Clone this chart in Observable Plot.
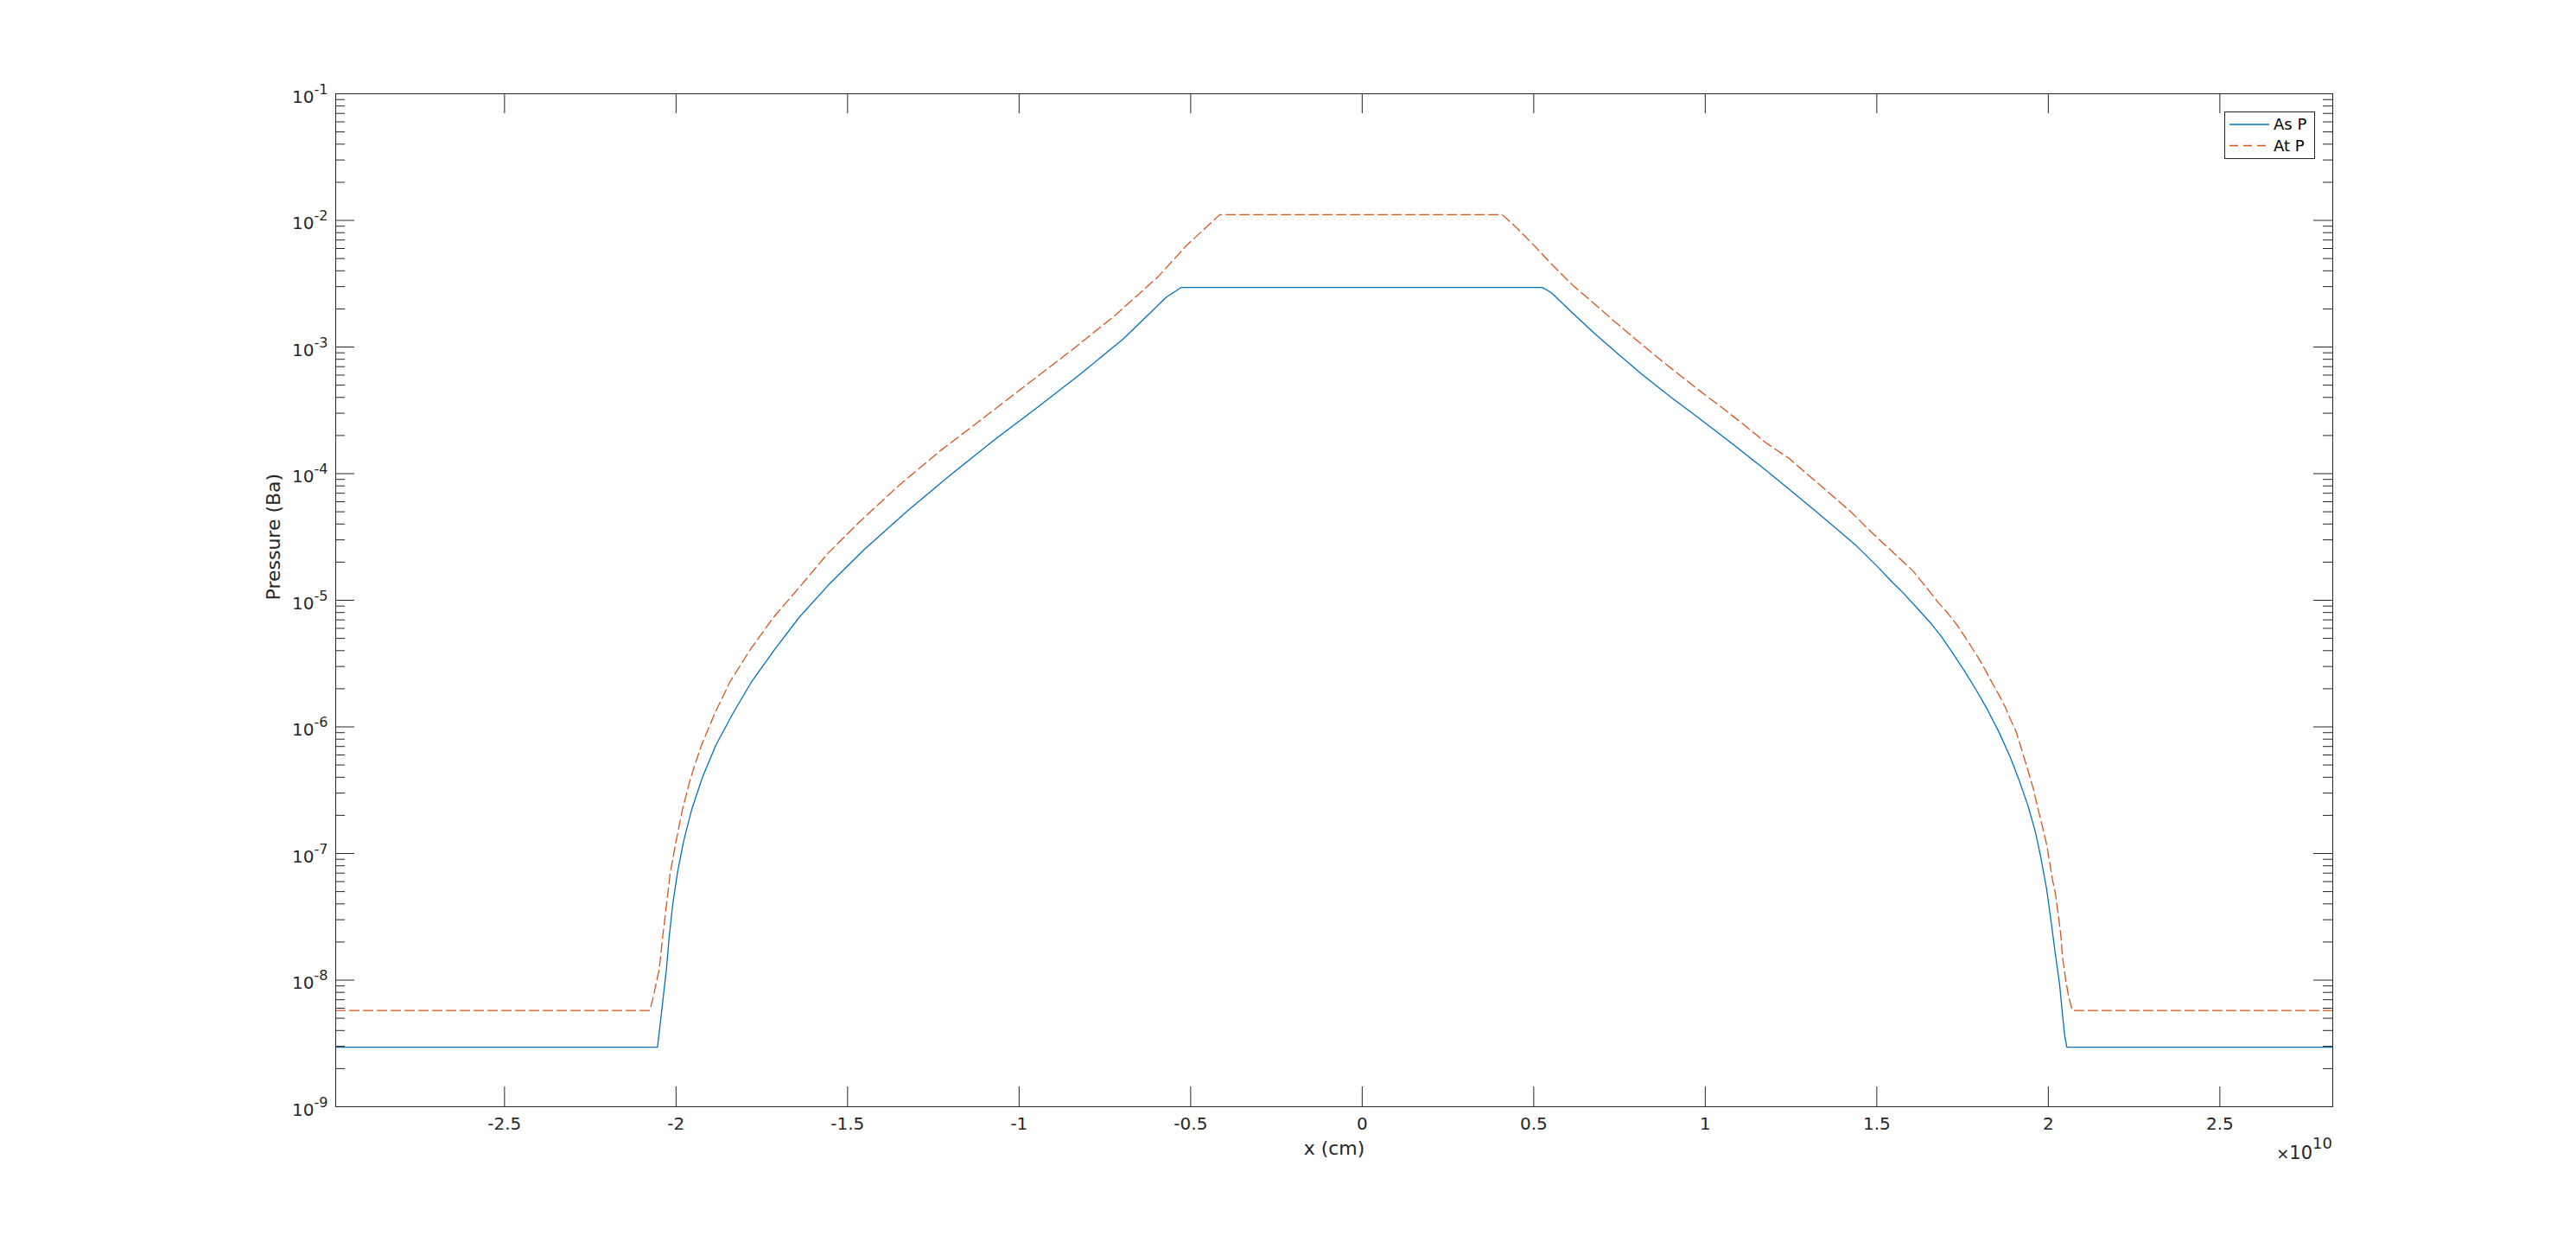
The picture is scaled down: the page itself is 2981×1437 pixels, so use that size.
<!DOCTYPE html>
<html><head><meta charset="utf-8">
<script src="https://cdn.jsdelivr.net/npm/d3@7"></script>
<script src="https://cdn.jsdelivr.net/npm/@observablehq/plot@0.6"></script>
<style>
body{margin:0;background:#fff;}
#wrap{position:relative;width:2981px;height:1437px;}
#legend{position:absolute;left:0;top:0;}
</style></head><body><div id="wrap"></div>
<script>
// x in units of 1e10 cm, pressure in Ba
const asP_x = [-2.992,-2.054,-2.028,-2.020,-2.010,-1.996,-1.978,-1.954,-1.923,-1.884,-1.834,-1.779,-1.712,-1.641,-1.557,-1.452,-1.326,-1.200,-1.074,-0.948,-0.822,-0.696,-0.570,-0.528,
  0.525,0.551,0.610,0.677,0.748,0.815,0.899,0.983,1.084,1.168,1.252,1.319,1.378,1.437,1.504,1.546,1.576,1.622,1.660,1.689,1.722,1.756,1.790,1.823,1.856,1.890,1.915,1.941,1.962,1.978,1.995,2.008,2.020,2.033,2.041,2.048,2.054,2.829];
const asP_p = [2.95e-9,2.95e-9,1.22e-8,2.19e-8,3.91e-8,7.00e-8,1.25e-7,2.24e-7,4.00e-7,7.16e-7,1.28e-6,2.29e-6,4.10e-6,7.33e-6,1.31e-5,2.51e-5,5.07e-5,9.77e-5,1.83e-4,3.31e-4,6.10e-4,1.16e-3,2.49e-3,2.95e-3,
  2.95e-3,2.69e-3,1.89e-3,1.28e-3,8.71e-4,6.10e-4,4.03e-4,2.72e-4,1.68e-4,1.11e-4,7.24e-5,5.13e-5,3.76e-5,2.75e-5,1.82e-5,1.38e-5,1.15e-5,8.41e-6,6.46e-6,5.13e-6,3.80e-6,2.75e-6,1.95e-6,1.36e-6,9.12e-7,5.68e-7,3.78e-7,2.37e-7,1.49e-7,9.35e-8,5.24e-8,2.92e-8,1.64e-8,9.16e-9,5.42e-9,3.61e-9,2.95e-9,2.95e-9];
const atP_x = [-2.992,-2.077,-2.069,-2.049,-2.039,-2.028,-2.017,-2.000,-1.981,-1.957,-1.926,-1.887,-1.842,-1.783,-1.716,-1.636,-1.557,-1.469,-1.351,-1.225,-1.099,-0.973,-0.847,-0.721,-0.595,-0.511,-0.452,-0.415,
  0.408,0.446,0.500,0.555,0.614,0.673,0.740,0.799,0.866,0.924,0.983,1.050,1.109,1.176,1.244,1.302,1.361,1.428,1.487,1.546,1.605,1.651,1.680,1.705,1.731,1.756,1.777,1.798,1.819,1.836,1.857,1.874,1.890,1.907,1.924,1.941,1.957,1.970,1.982,1.995,2.003,2.012,2.020,2.029,2.037,2.041,2.050,2.058,2.066,2.070,2.829];
const atP_p = [5.75e-9,5.75e-9,6.84e-9,1.22e-8,2.19e-8,3.91e-8,7.00e-8,1.25e-7,2.24e-7,4.00e-7,7.16e-7,1.28e-6,2.29e-6,4.10e-6,7.33e-6,1.31e-5,2.35e-5,4.07e-5,8.04e-5,1.55e-4,2.82e-4,5.16e-4,9.44e-4,1.77e-3,3.59e-3,6.38e-3,8.97e-3,1.11e-2,
  1.11e-2,8.97e-3,6.38e-3,4.43e-3,3.07e-3,2.24e-3,1.55e-3,1.14e-3,8.05e-4,6.05e-4,4.53e-4,3.30e-4,2.48e-4,1.76e-4,1.32e-4,9.66e-5,7.05e-5,4.89e-5,3.39e-5,2.41e-5,1.71e-5,1.20e-5,9.53e-6,8.02e-6,6.53e-6,5.18e-6,4.23e-6,3.44e-6,2.73e-6,2.23e-6,1.77e-6,1.44e-6,1.14e-6,9.04e-7,6.38e-7,4.50e-7,3.18e-7,2.24e-7,1.67e-7,1.18e-7,8.83e-8,6.22e-8,4.93e-8,3.29e-8,2.19e-8,1.55e-8,1.03e-8,7.69e-9,6.28e-9,5.75e-9,5.75e-9];

const seriesNames = ["As P", "At P"];
const seriesColors = ["#0072BD", "#D95319"];
const xTicks = [-2.5,-2,-1.5,-1,-0.5,0,0.5,1,1.5,2,2.5];
const xTickLabels = ["-2.5","-2","-1.5","-1","-0.5","0","0.5","1","1.5","2","2.5"];
const yMajor = [1e-9,1e-8,1e-7,1e-6,1e-5,1e-4,1e-3,1e-2,1e-1];
const yExpLabels = ["-9","-8","-7","-6","-5","-4","-3","-2","-1"];
const yMinor = [];
for (let k = -9; k < -1; k++) for (let m = 2; m <= 9; m++) yMinor.push(+(m + "e" + k));
const xDomain = [-2.992, 2.829];
const yDomain = [1e-9, 1e-1];

const W = 2981, H = 1437, ML = 388, MR = 282, MT = 108, MB = 157;
const innerW = W - ML - MR, innerH = H - MT - MB;
const AX = "#262626";

const asP = asP_x.map((x, i) => ({x, p: asP_p[i]}));
const atP = atP_x.map((x, i) => ({x, p: atP_p[i]}));

const chart = Plot.plot({
  width: W, height: H, marginLeft: ML, marginRight: MR, marginTop: MT, marginBottom: MB,
  style: {fontFamily: "'DejaVu Sans', sans-serif", fontSize: "20px", color: AX, background: "#fff"},
  x: {domain: xDomain},
  y: {type: "log", domain: yDomain},
  marks: [
    Plot.line(asP, {x: "x", y: "p", stroke: seriesColors[0], strokeWidth: 1.3}),
    Plot.line(atP, {x: "x", y: "p", stroke: seriesColors[1], strokeWidth: 1.3, strokeDasharray: "11,5"}),
    Plot.tickY(yMajor, {y: d => d, stroke: AX, insetRight: innerW - 22}),
    Plot.tickY(yMajor, {y: d => d, stroke: AX, insetLeft: innerW - 22}),
    Plot.tickY(yMinor, {y: d => d, stroke: AX, insetRight: innerW - 11}),
    Plot.tickY(yMinor, {y: d => d, stroke: AX, insetLeft: innerW - 11}),
    Plot.tickX(xTicks, {x: d => d, stroke: AX, insetTop: innerH - 23}),
    Plot.tickX(xTicks, {x: d => d, stroke: AX, insetBottom: innerH - 23}),
    Plot.axisY({ticks: yMajor, tickSize: 0, tickPadding: 9, dy: 4, label: null,
      tickFormat: d => yExpLabels[yMajor.findIndex(v => Math.abs(Math.log10(v) - Math.log10(d)) < 1e-6)]}),
    Plot.axisX({ticks: xTicks, tickSize: 0, tickPadding: 12, label: null,
      tickFormat: d => xTickLabels[xTicks.findIndex(v => Math.abs(v - d) < 1e-9)]}),
    Plot.frame({stroke: AX}),
    Plot.text(["x (cm)"], {frameAnchor: "bottom", dy: 55, fontSize: 22, fill: AX}),
    Plot.text(["Pressure (Ba)"], {frameAnchor: "left", dx: -72, rotate: -90, fontSize: 22, fill: AX})
  ]
});

document.getElementById("wrap").appendChild(chart);
const svg = d3.select(chart);
// superscript exponents for y tick labels
svg.selectAll('g[aria-label="y-axis tick label"] text').each(function() {
  const e = this.textContent;
  const t = d3.select(this);
  t.text(null);
  t.append("tspan").text("10");
  t.append("tspan").attr("dy", -10).attr("font-size", "16px").text(e);
});
// x-axis multiplier
const mult = svg.append("text").attr("x", W - MR).attr("y", 1341).attr("text-anchor", "end")
  .attr("fill", AX).attr("font-family", "'DejaVu Sans', sans-serif").attr("font-size", "21px");
mult.append("tspan").attr("font-size", "18px").text("×");
mult.append("tspan").text("10");
mult.append("tspan").attr("dy", -12).attr("font-size", "18px").text("10");

// legend (inside axes, top-right)
const lg = d3.select("#wrap").append("svg").attr("id", "legend")
  .attr("width", W).attr("height", 200).style("pointer-events", "none");
lg.append("rect").attr("x", 2574.5).attr("y", 129.5).attr("width", 104).attr("height", 54)
  .attr("fill", "#fff").attr("stroke", AX).attr("stroke-width", 1);
seriesNames.forEach((name, i) => {
  const yy = 144 + i * 24.5;
  lg.append("line").attr("x1", 2580).attr("x2", 2626).attr("y1", yy).attr("y2", yy)
    .attr("stroke", seriesColors[i]).attr("stroke-width", 1.3)
    .attr("stroke-dasharray", i === 1 ? "10,6" : null);
  lg.append("text").attr("x", 2631).attr("y", yy).attr("dy", "0.35em")
    .attr("font-family", "'DejaVu Sans', sans-serif").attr("font-size", "18px").attr("fill", "#000").text(name);
});
</script></body></html>
